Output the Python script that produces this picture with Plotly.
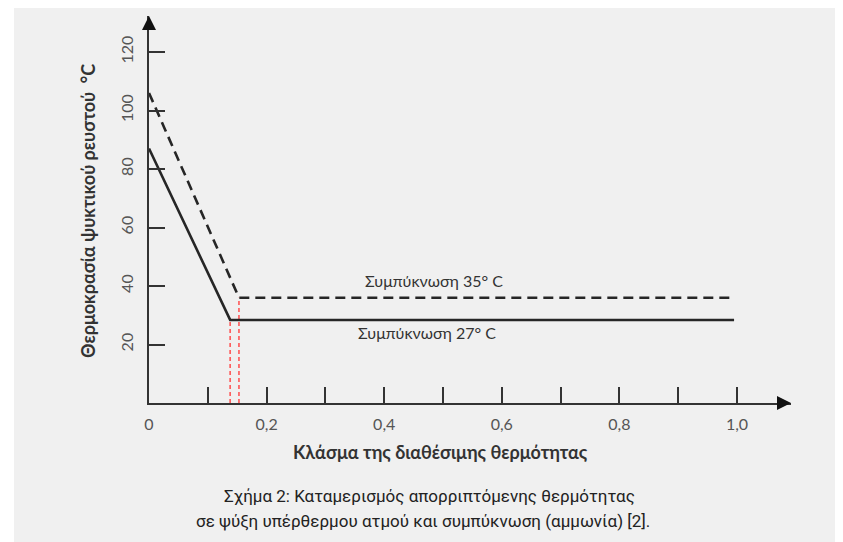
import plotly.graph_objects as go

# ---- data ----
x_tickvals = [0, 0.1, 0.2, 0.3, 0.4, 0.5, 0.6, 0.7, 0.8, 0.9, 1.0]
x_ticktext = ["0", "", "0,2", "", "0,4", "", "0,6", "", "0,8", "", "1,0"]
y_tickvals = [0, 20, 40, 60, 80, 100, 120]
y_ticktext = ["", "20", "40", "60", "80", "100", "120"]

x_cond27 = [0.0, 0.138, 0.995]
y_cond27 = [87, 28.4, 28.4]
x_cond35 = [0.0, 0.153, 0.995]
y_cond35 = [106, 36, 36]

x_mark27 = [0.138, 0.138]
y_mark27 = [0, 28.4]
x_mark35 = [0.153, 0.153]
y_mark35 = [0, 36]

label35 = "Συμπύκνωση 35° C"
label27 = "Συμπύκνωση 27° C"
label35_pos = (0.485, 42)
label27_pos = (0.473, 24)

x_title = "Κλάσμα της διαθέσιμης θερμότητας"
y_title = "Θερμοκρασία ψυκτικού ρευστού  °C"
caption1 = "Σχήμα 2: Καταμερισμός απορριπτόμενης θερμότητας"
caption2 = "σε ψύξη υπέρθερμου ατμού και συμπύκνωση (αμμωνία) [2]."

# ---- layout geometry (screen pixels; page body has an 8px margin) ----
OFF = 8
W, H = 843 - OFF, 542 - OFF
X0S, X1S, Y0S, Y1S = 149, 791, 403, 16  # axis origin / ends on screen
L = X0S - OFF
T = Y1S - OFF
R = W - (X1S - OFF)
B = H - (Y0S - OFF)
PW, PH = X1S - X0S, Y0S - Y1S


def px(xs):
    return (xs - X0S) / PW


def py(ys):
    return (Y0S - ys) / PH


LINE = "#262626"
AX = "#333333"
FONT = "Lato, Carlito, 'DejaVu Sans', sans-serif"
CAPFONT = "Roboto, 'DejaVu Sans', sans-serif"

fig = go.Figure()
fig.add_trace(go.Scatter(x=x_mark27, y=y_mark27, mode="lines",
                         line=dict(color="#ff4d4d", width=1.5, dash="4px,3px"),
                         hoverinfo="skip", showlegend=False))
fig.add_trace(go.Scatter(x=x_mark35, y=y_mark35, mode="lines",
                         line=dict(color="#ff4d4d", width=1.5, dash="4px,3px"),
                         hoverinfo="skip", showlegend=False))
fig.add_trace(go.Scatter(x=x_cond35, y=y_cond35, mode="lines",
                         line=dict(color=LINE, width=2.6, dash="10px,6px"),
                         showlegend=False))
fig.add_trace(go.Scatter(x=x_cond27, y=y_cond27, mode="lines",
                         line=dict(color=LINE, width=2.6),
                         showlegend=False))

fig.add_shape(type="rect", xref="paper", yref="paper",
              x0=px(14), x1=px(900), y0=py(600), y1=py(4),
              fillcolor="#f0f0f0", line=dict(width=0), layer="below")

C = dict(xanchor="center", yanchor="middle", showarrow=False)
annotations = [
    dict(x=label35_pos[0], y=label35_pos[1], text=label35, **C,
         font=dict(family=FONT, size=16, color="#333333")),
    dict(x=label27_pos[0], y=label27_pos[1], text=label27, **C,
         font=dict(family=FONT, size=16, color="#333333")),
    dict(xref="paper", yref="paper", x=px(440), y=py(452), text="<b>" + x_title + "</b>",
         **C, font=dict(family=FONT, size=18, color="#333333")),
    dict(xref="paper", yref="paper", x=px(88), y=py(211), text="<b>" + y_title + "</b>",
         textangle=-90, **C, font=dict(family=FONT, size=18, color="#333333")),
    dict(xref="paper", yref="paper", x=px(429), y=py(496), text=caption1,
         **C, font=dict(family=CAPFONT, size=17, color="#222222")),
    dict(xref="paper", yref="paper", x=px(423), y=py(521), text=caption2,
         **C, font=dict(family=CAPFONT, size=17, color="#222222")),
    # axis arrowheads
    dict(xref="paper", yref="paper", x=1, y=0, ax=-14, ay=0, text="", showarrow=True,
         arrowhead=2, arrowsize=1.4, arrowwidth=2, arrowcolor="#111111"),
    dict(xref="paper", yref="paper", x=0, y=1, ax=0, ay=14, text="", showarrow=True,
         arrowhead=2, arrowsize=1.4, arrowwidth=2, arrowcolor="#111111"),
]

fig.update_layout(
    width=W, height=H,
    margin=dict(l=L, r=R, t=T, b=B),
    paper_bgcolor="white", plot_bgcolor="rgba(0,0,0,0)",
    annotations=annotations,
    showlegend=False,
)
fig.update_xaxes(range=[0, PW / 588], tickvals=x_tickvals, ticktext=x_ticktext,
                 showgrid=False, zeroline=False, showline=True, linecolor=AX, linewidth=2,
                 ticks="inside", ticklen=16, tickwidth=2, tickcolor=AX,
                 tickfont=dict(family=FONT, size=16, color="#555555"),
                 ticklabelstandoff=6)
fig.update_yaxes(range=[0, PH / 2.925], tickvals=y_tickvals, ticktext=y_ticktext,
                 showgrid=False, zeroline=False, showline=True, linecolor=AX, linewidth=2,
                 ticks="inside", ticklen=16, tickwidth=2, tickcolor=AX, tickangle=-90,
                 tickfont=dict(family=FONT, size=16, color="#555555"),
                 ticklabelstandoff=8)

fig.write_html("out.html")
